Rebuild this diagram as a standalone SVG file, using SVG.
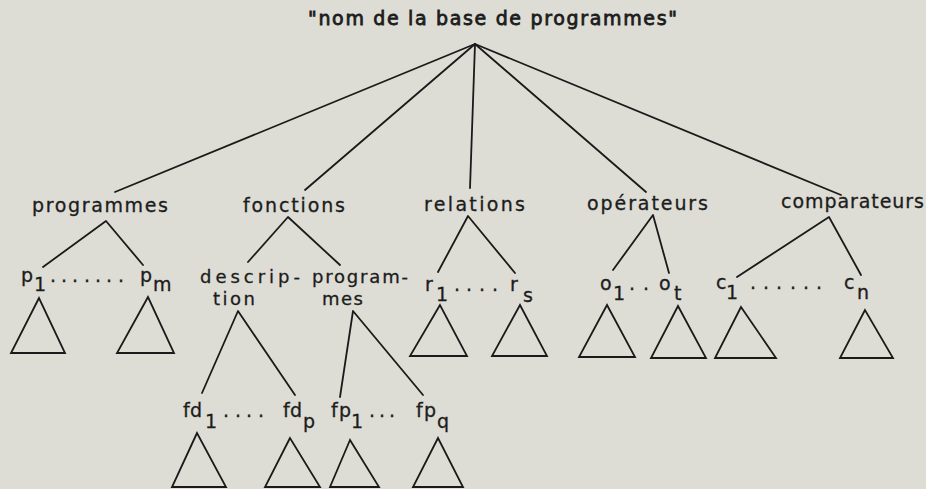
<svg xmlns="http://www.w3.org/2000/svg" width="926" height="489" viewBox="0 0 926 489">
<style>
  .bg{fill:#dddcd5}
  text{font-family:"DejaVu Sans","Liberation Sans",sans-serif;font-size:19px;fill:#1c1c1c;stroke:#1c1c1c;stroke-width:0.3}
  .title{font-size:19px;stroke-width:0.8}
  .two{font-size:18px}
  .conn line,.conn polyline{stroke:#1a1a1a;stroke-width:1.8;fill:none;stroke-linecap:round;stroke-linejoin:round}
  .tri{fill:none;stroke:#1a1a1a;stroke-width:1.8;stroke-linejoin:miter}
</style>
<rect class="bg" x="0" y="0" width="926" height="489"/>

<g id="connectors" class="conn">
  <line x1="475" y1="44" x2="115" y2="192"/>
  <line x1="475" y1="44" x2="305" y2="190"/>
  <line x1="475" y1="44" x2="470" y2="188"/>
  <line x1="475" y1="44" x2="646" y2="192"/>
  <line x1="475" y1="44" x2="841" y2="195"/>
  <polyline points="43,267 106,221 143,265"/>
  <polyline points="248,262 288,217 340,265"/>
  <polyline points="438,272 468,216 515,273"/>
  <polyline points="613,270 653,215 669,273"/>
  <polyline points="737,277 829,217 861,275"/>
  <polyline points="202,393 238,311 295,395"/>
  <polyline points="340,397 353,311 423,395"/>
</g>

<g id="root"><text class="title" x="308" y="25" textLength="369" lengthAdjust="spacing">"nom de la base de programmes"</text></g>

<g id="programmes"><text x="32" y="212" textLength="136" lengthAdjust="spacing">programmes</text></g>
<g id="fonctions"><text x="243" y="212" textLength="102" lengthAdjust="spacing">fonctions</text></g>
<g id="relations"><text x="424" y="211" textLength="101" lengthAdjust="spacing">relations</text></g>
<g id="operateurs"><text x="587" y="210" textLength="121" lengthAdjust="spacing">opérateurs</text></g>
<g id="comparateurs"><text x="781" y="208" textLength="143" lengthAdjust="spacing">comparateurs</text></g>

<g id="p-list"><text><tspan x="21" y="282">p</tspan><tspan x="34" y="291">1</tspan><tspan x="50 61 72 84 95 106 118" y="282">.......</tspan><tspan x="140" y="282">p</tspan><tspan x="153" y="291">m</tspan></text></g>
<g id="description"><text class="two"><tspan x="200" y="283" textLength="100" lengthAdjust="spacing">descrip-</tspan><tspan x="213" y="305" textLength="42" lengthAdjust="spacing">tion</tspan></text></g>
<g id="programmes-f"><text class="two"><tspan x="312" y="283" textLength="96" lengthAdjust="spacing">program-</tspan><tspan x="322" y="305" textLength="41" lengthAdjust="spacing">mes</tspan></text></g>
<g id="r-list"><text><tspan x="425" y="291">r</tspan><tspan x="436" y="301">1</tspan><tspan x="454 466 479 492" y="291">....</tspan><tspan x="510" y="291">r</tspan><tspan x="523" y="302">s</tspan></text></g>
<g id="o-list"><text><tspan x="600" y="290">o</tspan><tspan x="613" y="300">1</tspan><tspan x="629 643" y="290">..</tspan><tspan x="659" y="290">o</tspan><tspan x="674" y="300">t</tspan></text></g>
<g id="c-list"><text><tspan x="716" y="289">c</tspan><tspan x="726" y="299">1</tspan><tspan x="750 763 776 790 803 816" y="289">......</tspan><tspan x="844" y="289">c</tspan><tspan x="857" y="299">n</tspan></text></g>

<g id="fd-list"><text><tspan x="183 190" y="417">fd</tspan><tspan x="205" y="428">1</tspan><tspan x="223 235 246 258" y="417">....</tspan><tspan x="283 290" y="417">fd</tspan><tspan x="303" y="428">p</tspan></text></g>
<g id="fp-list"><text><tspan x="331 339" y="417">fp</tspan><tspan x="351" y="428">1</tspan><tspan x="369 379 389" y="417">...</tspan><tspan x="416 424" y="417">fp</tspan><tspan x="437" y="428">q</tspan></text></g>

<g id="t-p1"><polygon class="tri" points="39,298 11,353 65,353"/></g>
<g id="t-pm"><polygon class="tri" points="148,297 117,353 174,353"/></g>
<g id="t-r1"><polygon class="tri" points="440,305 410,356 467,356"/></g>
<g id="t-rs"><polygon class="tri" points="520,305 492,356 547,356"/></g>
<g id="t-o1"><polygon class="tri" points="607,305 579,357 635,357"/></g>
<g id="t-ot"><polygon class="tri" points="678,306 651,358 706,358"/></g>
<g id="t-c1"><polygon class="tri" points="741,307 715,358 776,358"/></g>
<g id="t-cn"><polygon class="tri" points="865,310 840,358 893,358"/></g>
<g id="t-fd1"><polygon class="tri" points="197,433 172,487 226,487"/></g>
<g id="t-fdp"><polygon class="tri" points="290,438 265,487 320,487"/></g>
<g id="t-fp1"><polygon class="tri" points="350,440 330,487 379,487"/></g>
<g id="t-fpq"><polygon class="tri" points="438,438 413,487 463,487"/></g>
</svg>
